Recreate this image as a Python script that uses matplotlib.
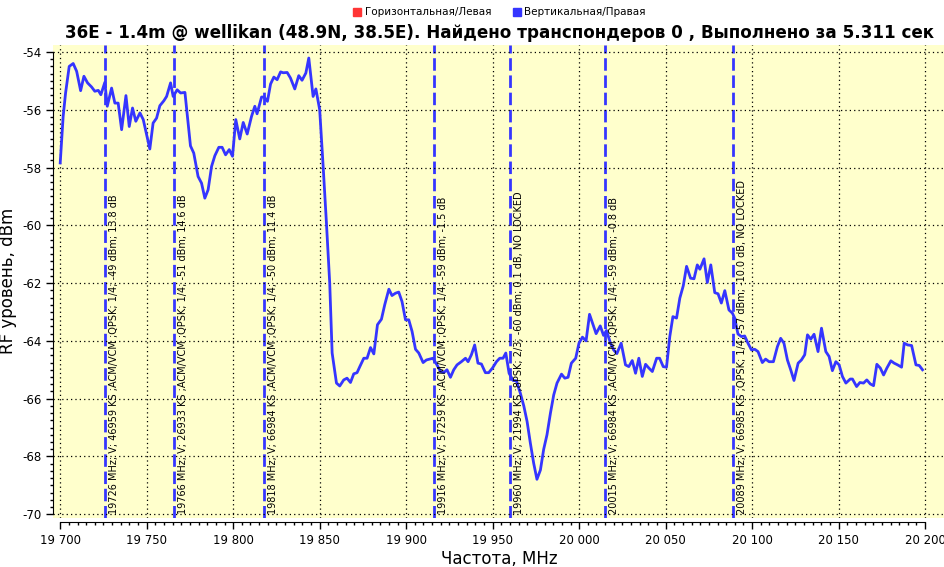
import matplotlib
matplotlib.use("Agg")
import matplotlib.pyplot as plt
from matplotlib.ticker import MultipleLocator, FuncFormatter, FixedLocator
from matplotlib.lines import Line2D
import numpy as np

freq = [19700.0, 19701.7, 19703.1, 19705.2, 19707.5, 19709.5, 19711.8, 19713.7, 19715.8, 19718.1,
        19720.0, 19722.0, 19723.5, 19725.8, 19727.2, 19729.7, 19731.6, 19733.5, 19735.5, 19738.0,
        19739.9, 19741.8, 19743.7, 19746.1, 19748.0, 19751.8, 19753.7, 19755.7, 19757.6, 19759.9,
        19761.5, 19763.8, 19765.3, 19767.6, 19769.6, 19772.1, 19775.3, 19777.2, 19779.7, 19781.7,
        19783.6, 19785.5, 19787.5, 19789.4, 19791.7, 19793.6, 19795.6, 19797.7, 19799.6, 19801.5,
        19803.8, 19805.8, 19808.1, 19810.6, 19812.5, 19813.8, 19816.4, 19817.9, 19819.8, 19821.6,
        19823.5, 19825.4, 19827.4, 19828.9, 19831.2, 19833.1, 19835.6, 19837.9, 19839.8, 19842.0,
        19843.7, 19846.2, 19847.8, 19850.0, 19852.0, 19853.9, 19855.8, 19857.2, 19859.7, 19861.6,
        19863.9, 19865.8, 19867.8, 19869.7, 19871.6, 19873.2, 19875.5, 19877.4, 19879.4, 19881.3,
        19883.4, 19885.7, 19887.6, 19890.0, 19891.8, 19893.8, 19895.7, 19897.6, 19899.6, 19901.5,
        19903.4, 19905.4, 19907.3, 19909.8, 19911.7, 19913.7, 19915.5, 19917.8, 19919.8, 19921.7,
        19923.6, 19925.6, 19927.5, 19929.4, 19931.9, 19934.3, 19935.8, 19937.7, 19939.6, 19941.5,
        19943.5, 19945.8, 19947.7, 19949.9, 19952.2, 19954.1, 19956.0, 19957.6, 19959.5, 19961.8,
        19963.7, 19966.0, 19968.0, 19969.9, 19971.8, 19973.7, 19975.6, 19977.6, 19979.5, 19981.4,
        19983.4, 19985.3, 19987.2, 19989.8, 19991.7, 19993.6, 19995.5, 19998.0, 19999.9, 20001.9,
        20004.0, 20006.0, 20008.0, 20009.8, 20012.2, 20014.1, 20015.8, 20018.0, 20019.9, 20021.8,
        20024.3, 20026.8, 20028.7, 20030.7, 20032.6, 20034.5, 20036.5, 20038.4, 20040.3, 20042.3,
        20044.8, 20046.5, 20048.6, 20050.5, 20052.4, 20054.2, 20056.3, 20058.2, 20060.2, 20062.1,
        20064.4, 20066.4, 20068.3, 20069.8, 20072.2, 20074.1, 20076.1, 20078.4, 20080.3, 20082.2,
        20084.2, 20086.6, 20088.6, 20089.9, 20091.8, 20093.8, 20095.7, 20097.6, 20099.6, 20101.5,
        20103.4, 20105.9, 20107.8, 20109.8, 20112.3, 20114.6, 20116.5, 20118.4, 20120.4, 20122.3,
        20124.2, 20126.6, 20128.5, 20130.4, 20132.0, 20133.9, 20135.8, 20138.1, 20140.1, 20142.6,
        20144.5, 20146.4, 20148.4, 20150.3, 20152.2, 20154.2, 20156.7, 20158.0, 20160.4, 20162.3,
        20164.4, 20166.3, 20168.3, 20170.2, 20172.1, 20174.1, 20176.0, 20177.9, 20180.2, 20182.1,
        20184.1, 20186.4, 20187.9, 20189.9, 20192.2, 20194.7, 20196.6, 20198.5]

level = [-57.84, -56.23, -55.42, -54.50, -54.40, -54.67, -55.34, -54.84, -55.07, -55.21,
         -55.36, -55.33, -55.48, -55.05, -55.88, -55.25, -55.77, -55.77, -56.69, -55.51,
         -56.58, -55.94, -56.40, -56.11, -56.34, -57.36, -56.46, -56.29, -55.86, -55.69,
         -55.54, -55.07, -55.54, -55.31, -55.42, -55.40, -57.25, -57.50, -58.31, -58.54,
         -59.06, -58.77, -57.96, -57.59, -57.30, -57.30, -57.56, -57.38, -57.61, -56.34,
         -57.01, -56.44, -56.84, -56.23, -55.88, -56.14, -55.56, -55.56, -55.71, -55.11,
         -54.87, -54.96, -54.69, -54.72, -54.71, -54.90, -55.28, -54.82, -54.98, -54.73,
         -54.21, -55.54, -55.28, -56.00, -57.96, -59.92, -62.00, -64.42, -65.46, -65.56,
         -65.35, -65.29, -65.44, -65.14, -65.10, -64.89, -64.60, -64.60, -64.23, -64.45,
         -63.44, -63.25, -62.75, -62.21, -62.43, -62.35, -62.31, -62.64, -63.27, -63.27,
         -63.67, -64.29, -64.42, -64.75, -64.66, -64.63, -64.60, -64.83, -65.06, -65.10,
         -65.00, -65.26, -65.00, -64.83, -64.72, -64.60, -64.72, -64.48, -64.14, -64.77,
         -64.80, -65.10, -65.10, -64.94, -64.72, -64.60, -64.60, -64.42, -65.12, -65.37,
         -65.38, -65.81, -66.25, -66.79, -67.54, -68.23, -68.79, -68.47, -67.75, -67.25,
         -66.50, -65.87, -65.46, -65.15, -65.29, -65.26, -64.77, -64.60, -64.08, -63.87,
         -64.00, -63.08, -63.43, -63.75, -63.48, -63.81, -63.64, -64.06, -64.31, -64.44,
         -64.08, -64.83, -64.89, -64.68, -65.12, -64.60, -65.23, -64.81, -64.94, -65.06,
         -64.60, -64.60, -64.89, -64.91, -63.85, -63.16, -63.21, -62.52, -62.09, -61.42,
         -61.83, -61.85, -61.37, -61.52, -61.16, -61.98, -61.37, -62.33, -62.37, -62.69,
         -62.26, -62.93, -63.04, -63.21, -63.76, -63.85, -63.83, -64.08, -64.31, -64.29,
         -64.37, -64.75, -64.63, -64.72, -64.72, -64.20, -63.91, -64.08, -64.66, -65.00,
         -65.37, -64.77, -64.66, -64.48, -63.79, -63.94, -63.77, -64.37, -63.56, -64.37,
         -64.54, -65.03, -64.72, -64.83, -65.23, -65.46, -65.32, -65.32, -65.58, -65.44,
         -65.46, -65.35, -65.49, -65.55, -64.81, -64.94, -65.18, -64.94, -64.69, -64.77,
         -64.83, -64.91, -64.08, -64.14, -64.16, -64.83, -64.85, -65.00]

marker_freqs = [19726, 19766, 19818, 19916, 19960, 20015, 20089]
marker_labels = [
    "19726 MHz; V; 46959 KS ;ACM/VCM ;QPSK; 1/4; -49 dBm; 13.8 dB",
    "19766 MHz; V; 26933 KS ;ACM/VCM ;QPSK; 1/4; -51 dBm; 14.6 dB",
    "19818 MHz; V; 66984 KS ;ACM/VCM ;QPSK; 1/4; -50 dBm; 11.4 dB",
    "19916 MHz; V; 57259 KS ;ACM/VCM ;QPSK; 1/4; -59 dBm; -1.5 dB",
    "19960 MHz; V; 21994 KS ;8PSK; 2/3; -60 dBm; 0.1 dB, NO LOCKED",
    "20015 MHz; V; 66984 KS ;ACM/VCM ;QPSK; 1/4; -59 dBm; -0.8 dB",
    "20089 MHz; V; 66985 KS ;QPSK; 1/4; -57 dBm; -10.0 dB, NO LOCKED",
]

title = "36E - 1.4m @ wellikan (48.9N, 38.5E). Найдено транспондеров 0 , Выполнено за 5.311 сек"
legend_labels = ["Горизонтальная/Левая", "Вертикальная/Правая"]
xlabel = "Частота, MHz"
ylabel = "RF уровень, dBm"

BLUE = "#3535ff"
RED = "#ff3535"

fig = plt.figure(figsize=(9.45, 5.67), dpi=100)
ax = fig.add_axes([0.0564, 0.0869, 0.9436, 0.8337])
ax.set_facecolor("#ffffcc")

ax.plot(freq, level, color=BLUE, lw=2.0, zorder=3)

for f, lab in zip(marker_freqs, marker_labels):
    ax.axvline(f, color=BLUE, lw=2.0, ls=(0, (4.5, 1.7)), zorder=2)
    ax.annotate(lab, xy=(f, -70.0), xytext=(2.8, 0), textcoords="offset points",
                rotation=90, ha="left", va="bottom", fontsize=7.0, color="black", zorder=4)

ax.set_xlim(19696.0, 20211.5)
ax.set_ylim(-70.12, -53.76)

ax.xaxis.set_major_locator(FixedLocator(np.arange(19700, 20201, 50)))
ax.xaxis.set_minor_locator(FixedLocator(np.arange(19700, 20201, 5)))
ax.yaxis.set_major_locator(FixedLocator(np.arange(-70, -53.9, 2)))
ax.yaxis.set_minor_locator(FixedLocator(np.arange(-70, -53.9, 0.25)))
ax.xaxis.set_major_formatter(FuncFormatter(lambda v, p: f"{int(round(v)):,}".replace(",", " ")))
ax.yaxis.set_major_formatter(FuncFormatter(lambda v, p: f"{int(round(v))}"))

ax.grid(True, which="major", color="black", ls=(0, (1, 2.5)), lw=0.9)
ax.set_axisbelow(False)

for s in ["top", "right"]:
    ax.spines[s].set_visible(False)
ax.spines["bottom"].set_position(("outward", 3))
ax.spines["bottom"].set_bounds(19700, 20200)
ax.spines["left"].set_bounds(-70, -54)
ax.tick_params(axis="both", which="major", direction="out", length=5, width=1, labelsize=8.5)
ax.tick_params(axis="both", which="minor", direction="out", length=2.5, width=1)
ax.tick_params(axis="x", pad=4)

ax.set_xlabel(xlabel, fontsize=12, labelpad=2)
ax.set_ylabel(ylabel, fontsize=12, labelpad=4)

fig.text(0.529, 0.942, title, ha="center", va="center", fontsize=12.1, fontweight="bold")

handles = [Line2D([], [], marker="s", color=RED, ls="", markersize=5.5),
           Line2D([], [], marker="s", color=BLUE, ls="", markersize=5.5)]
fig.legend(handles, legend_labels, ncol=2, loc="center", bbox_to_anchor=(0.528, 0.978),
           frameon=False, fontsize=7.5, handletextpad=0.2, columnspacing=2.0, handlelength=1.0)

fig.savefig("out.png", dpi=100, facecolor="white")
